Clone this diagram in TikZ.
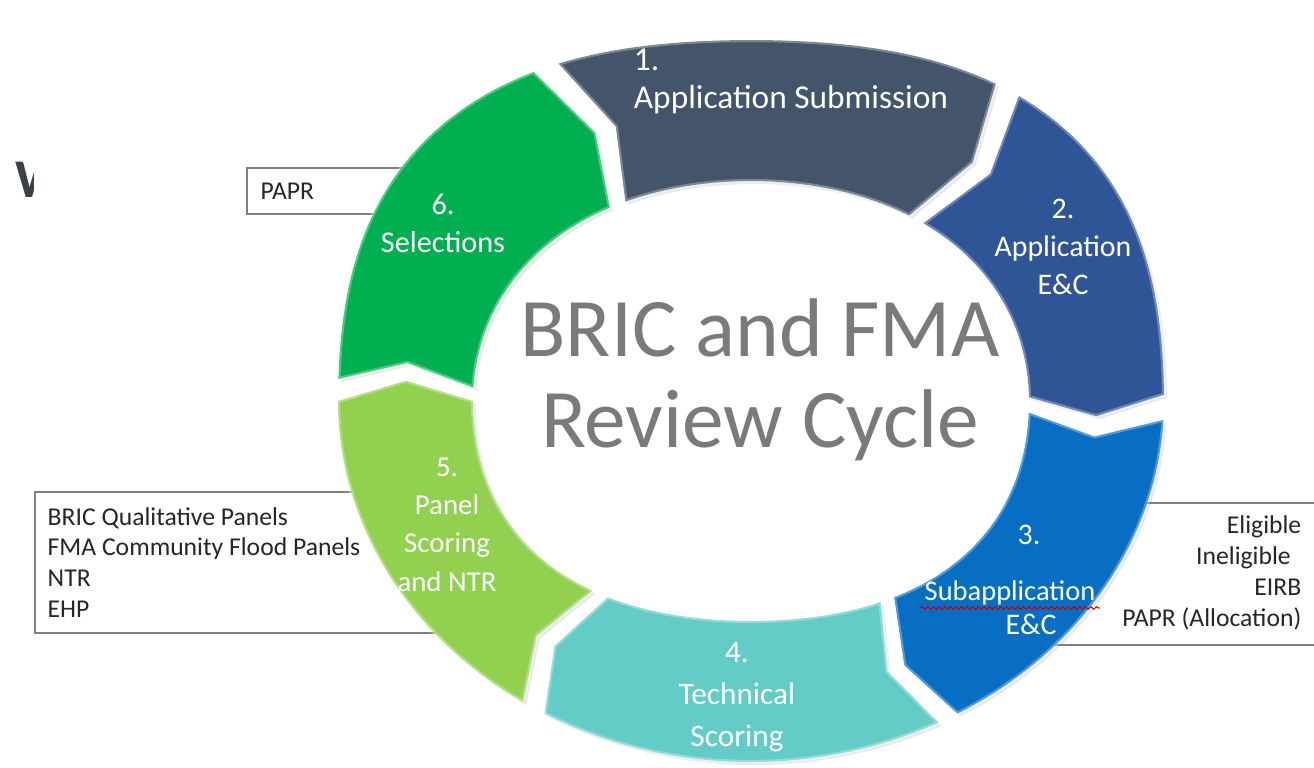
\documentclass[tikz,border=0pt]{standalone}
\usepackage{fontspec}
\setmainfont{Carlito}
\usetikzlibrary{shadows,decorations.pathmorphing}

\definecolor{segone}{RGB}{68,84,106}
\definecolor{segtwo}{RGB}{47,85,151}
\definecolor{segthree}{RGB}{8,110,196}
\definecolor{segfour}{RGB}{100,204,198}
\definecolor{segfive}{RGB}{146,208,80}
\definecolor{segsix}{RGB}{0,176,80}
\definecolor{titlegray}{RGB}{122,122,122}
\definecolor{headgray}{RGB}{60,64,72}

\tikzset{
  declare function={
    obulge(\t)=1+(0.07*(sin(\t)>0))*(sin(2*\t))^2;
    ibulge(\t)=1+(0.04-0.02*(sin(\t)>0))*(sin(2*\t))^2;
    mbulge(\t)=(obulge(\t)+ibulge(\t))/2;
  },
  seg/.style={fill=#1, drop shadow={opacity=0.18, shadow xshift=0.03, shadow yshift=-0.03},
    postaction={draw=white, draw opacity=0.3, line width=1.2pt, line join=round}},
  seglabel/.style={text=white, inner sep=1pt, align=center, font=\fontsize{8.5}{10.8}\selectfont},
  sidebox/.style={draw=gray, line width=0.45pt},
  sidetext/.style={text=black!85, inner sep=0pt, font=\fontsize{7.3}{8.8}\selectfont},
  spellmark/.style={red!80!black, line width=0.3pt, decorate, decoration={snake, amplitude=0.35pt, segment length=1.6pt}},
}

\begin{document}
\begin{tikzpicture}
    \useasboundingbox (0,0) rectangle (13.14,-7.67);

    % cut-off heading letter at the left edge
    \begin{scope}
        \clip (0,0) rectangle (0.33,-7.67);
        \node[anchor=west, inner sep=0pt, text=headgray, font=\fontsize{15.5}{15.5}\bfseries\selectfont] (head) at (0.15,-1.795) {W};
    \end{scope}

    % side boxes (their inner ends go under the ring)
    \draw[sidebox] (2.47,-1.68) rectangle (4.9,-2.14);
        \node[sidetext, anchor=west] (papr) at (2.60,-1.91) {PAPR};
    \draw[sidebox] (0.35,-4.92) rectangle (4.6,-6.33);
        \node[sidetext, anchor=west, align=left] (panels) at (0.47,-5.625) {BRIC Qualitative Panels\\FMA Community Flood Panels\\NTR\\EHP};
    \draw[sidebox] (10.3,-5.03) rectangle (13.6,-6.45);
        \node[sidetext, anchor=east, align=right] (outcomes) at (13.02,-5.73) {Eligible\\Ineligible\kern3pt\\EIRB\\PAPR (Allocation)};

    % ring of six arrows: start angle / end angle / colour, tip at end-4, notch at start-4
    \begin{scope}[shift={(7.51,-4.01)}]
        \foreach \s/\e/\c in {116.5/56/segone, 52.5/1/segtwo, -3/-60/segthree,
                              -63/-120/segfour, -123.5/-180/segfive, 176.5/120/segsix}
            \fill[seg=\c] plot[domain=\s:\e, samples=40] ({4.13*obulge(\x)*cos(\x)}, {3.61*obulge(\x)*sin(\x)})
                -- ({3.455*mbulge(\e-4)*cos(\e-4)}, {2.905*mbulge(\e-4)*sin(\e-4)})
                -- plot[domain=\e:\s, samples=40] ({2.78*ibulge(\x)*cos(\x)}, {2.2*ibulge(\x)*sin(\x)})
                -- ({3.455*mbulge(\s-4)*cos(\s-4)}, {2.905*mbulge(\s-4)*sin(\s-4)}) -- cycle;
    \end{scope}

    % labels on the arrows
    \node[seglabel, align=left, font=\fontsize{9.5}{10.8}\selectfont] (lab1) at (7.91,-0.81) {1.\\Application Submission};
    \node[seglabel] (lab2) at (10.63,-2.47) {2.\\Application\\E\&C};
    \node[seglabel] (lab3) at (10.29,-5.35) {3.};
    \node[seglabel, font=\fontsize{8.1}{10.8}\selectfont] (lab3a) at (10.10,-5.93) {Subapplication};
        \draw[spellmark] ([yshift=-2.1pt]lab3a.base west) -- ([yshift=-2.1pt]lab3a.base east);
    \node[seglabel] (lab3b) at (10.31,-6.24) {E\&C};
    \node[seglabel, font=\fontsize{8.9}{12}\selectfont] (lab4) at (7.37,-6.97) {4.\\Technical\\Scoring};
    \node[seglabel, font=\fontsize{8.2}{10.9}\selectfont] (lab5) at (4.47,-5.245) {5.\\Panel\\Scoring\\and NTR};
    \node[seglabel, font=\fontsize{8.6}{10.6}\selectfont] (lab6) at (4.43,-2.235) {6.\\Selections};

    % centre title
    \node[text=titlegray, align=center, inner sep=0pt, font=\fontsize{23.7}{25.9}\selectfont] (title) at (7.60,-3.80) {BRIC and FMA\\Review Cycle};
\end{tikzpicture}
\end{document}
